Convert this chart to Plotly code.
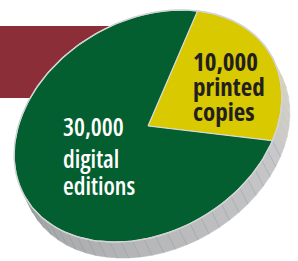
import numpy as np
import plotly.graph_objects as go

# ---- data ----
labels = ["printed copies", "digital editions"]
values = [10000, 30000]
value_text = ["10,000", "30,000"]
label_lines = [["printed", "copies"], ["digital", "editions"]]

# ---- styles ----
slice_colors = ["#D8C900", "#045F30"]
text_colors = ["#231F20", "#FFFFFF"]
facet_line_colors = ["rgba(215,200,90,0.7)", "rgba(95,140,120,0.45)"]
band_color = "#8B2E37"

W, H = 298, 261
CX, CY = 148, 126          # ellipse centre (px)
A, B = 142, 106            # semi axes (px)
ROT = np.radians(30)       # tilt of the disc
OFF = np.array([8.0, 16.0])  # extrusion of the disc side
START = 45.0               # first slice starts here, clockwise

def pt(t):
    u = A * np.cos(t)
    v = B * np.sin(t)
    x = CX + u * np.cos(ROT) - v * np.sin(ROT)
    y = CY - (u * np.sin(ROT) + v * np.cos(ROT))
    return x, y

def normal_angle(t):
    nu = B * np.cos(t)
    nv = A * np.sin(t)
    nx = nu * np.cos(ROT) - nv * np.sin(ROT)
    ny = -(nu * np.sin(ROT) + nv * np.cos(ROT))
    return np.degrees(np.arctan2(ny, nx)), np.array([nx, ny])

total = float(sum(values))
bounds = [START]
for v in values:
    bounds.append(bounds[-1] - 360.0 * v / total)

def slice_index(tdeg):
    d = (START - tdeg) % 360.0
    acc = 0.0
    for i, v in enumerate(values):
        acc += 360.0 * v / total
        if d < acc:
            return i
    return len(values) - 1

fig = go.Figure()

# ---- disc side (facets) ----
N = 72
ts = np.radians(np.linspace(0, 360, N + 1))
for k in range(N):
    t0, t1 = ts[k], ts[k + 1]
    tm = 0.5 * (t0 + t1)
    ang, nvec = normal_angle(tm)
    if np.dot(nvec, OFF) <= 0:
        continue
    frac = np.clip((ang + 20.0) / 170.0, 0, 1)
    L = int(214 - 52 * frac)
    col = f"rgb({L},{L},{L+3})"
    tt = np.linspace(t0, t1, 4)
    x0, y0 = pt(tt)
    xs = list(x0) + list((x0 + OFF[0])[::-1])
    ys = list(y0) + list((y0 + OFF[1])[::-1])
    fig.add_trace(go.Scatter(x=xs + [xs[0]], y=ys + [ys[0]], mode="lines",
                             fill="toself", fillcolor=col,
                             line=dict(color=col, width=0.6),
                             hoverinfo="skip", showlegend=False))

# facet lines
for idx in range(len(values)):
    lx, ly = [], []
    for k in range(N):
        t = ts[k]
        _, nvec = normal_angle(t)
        if np.dot(nvec, OFF) <= 0:
            continue
        if slice_index(np.degrees(t)) != idx:
            continue
        x, y = pt(t)
        lx += [x, x + OFF[0], None]
        ly += [y, y + OFF[1], None]
    fig.add_trace(go.Scatter(x=lx, y=ly, mode="lines",
                             line=dict(color=facet_line_colors[idx], width=0.7),
                             hoverinfo="skip", showlegend=False))

# ---- top face slices ----
for i, (lab, v) in enumerate(zip(labels, values)):
    a0, a1 = np.radians(bounds[i]), np.radians(bounds[i + 1])
    tt = np.linspace(a0, a1, 120)
    x, y = pt(tt)
    xs = [CX] + list(x) + [CX]
    ys = [CY] + list(y) + [CY]
    fig.add_trace(go.Scatter(x=xs, y=ys, mode="lines", fill="toself",
                             fillcolor=slice_colors[i],
                             line=dict(color="#DCDCDC", width=1.1),
                             name=lab, hoverinfo="name", showlegend=False))

# rim
tt = np.linspace(0, 2 * np.pi, 300)
rx, ry = pt(tt)
fig.add_trace(go.Scatter(x=rx, y=ry, mode="lines",
                         line=dict(color="#D2D3D5", width=1.4),
                         hoverinfo="skip", showlegend=False))

# ---- labels ----
FONT = "Open Sans, DejaVu Sans, sans-serif"
label_pos = [dict(x=191, ys=[60.5, 85.5, 110.5], size=25, weight=700),
             dict(x=61, ys=[126.5, 158, 185.5], size=24.5, weight=600)]
for i in range(len(values)):
    lines = [value_text[i]] + label_lines[i]
    p = label_pos[i]
    for j, s in enumerate(lines):
        fig.add_annotation(x=p["x"], y=p["ys"][j],
                           text=f"<span style='font-stretch:condensed'>{s}</span>",
                           showarrow=False, xanchor="left", yanchor="middle",
                           font=dict(family=FONT, size=p["size"],
                                     weight=p["weight"], color=text_colors[i]))

fig.update_layout(
    width=W, height=H, margin=dict(l=0, r=0, t=0, b=0),
    paper_bgcolor="white", plot_bgcolor="white",
    xaxis=dict(range=[0, W], visible=False, fixedrange=True),
    yaxis=dict(range=[H, 0], visible=False, fixedrange=True),
    shapes=[dict(type="rect", xref="x", yref="y", x0=0, x1=150, y0=26, y1=98,
                 fillcolor=band_color, line=dict(width=0), layer="below")],
)

fig.write_html("out.html", config={"displayModeBar": False},
               post_script="document.body.style.margin='0px';")
